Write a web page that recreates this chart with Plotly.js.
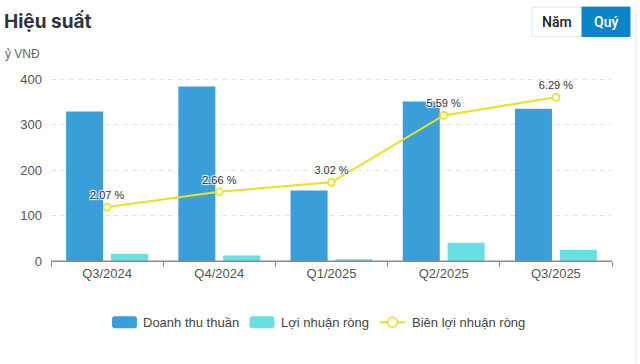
<!DOCTYPE html>
<html><head><meta charset="utf-8">
<script src="https://cdn.plot.ly/plotly-3.0.1.min.js"></script>
<style>html,body{margin:0;padding:0;background:#fff}#c{width:640px;height:364px}</style>
</head><body><div id="c"></div>
<script>
const categories = ["Q3/2024","Q4/2024","Q1/2025","Q2/2025","Q3/2025"];
const revenue = [329, 384, 155, 351, 335];
const netProfit = [16, 12, 4, 40, 25];
const netMargin = [2.07, 2.66, 3.02, 5.59, 6.29];
const marginLabels = netMargin.map(v => v.toFixed(2) + " %");
const yTicks = [0, 100, 200, 300, 400];
const seriesNames = ["Doanh thu thuần", "Lợi nhuận ròng", "Biên lợi nhuận ròng"];

const font = "Liberation Sans, Arial, sans-serif";
const BLUE = "#3a9fd9", CYAN = "#68dfe2", YELLOW = "#ebe11c";
const traces = [
  {type:"bar", name:seriesNames[0], x:categories, y:revenue,
   marker:{color:BLUE}, hoverinfo:"none"},
  {type:"bar", name:seriesNames[1], x:categories, y:netProfit,
   marker:{color:CYAN}, hoverinfo:"none"},
  {type:"scatter", mode:"lines+markers+text", name:seriesNames[2],
   x:categories, y:netMargin, yaxis:"y2", text:marginLabels,
   textposition:"top center",
   textfont:{family:font, size:11, color:"#333", shadow:"1px 1px 1px #fff, -1px -1px 1px #fff, 1px -1px 1px #fff, -1px 1px 1px #fff"},
   line:{color:YELLOW, width:2},
   marker:{symbol:"circle", size:7, color:"#ffffff", line:{color:YELLOW, width:1.6}},
   hoverinfo:"none"}
];

// pixel -> paper helpers (plot area: x 51..612, y 76.7..261.5)
const L = 51, W = 561, B = 261.5, H = 184.8;
const px = v => (v - L) / W;
const py = v => (B - v) / H;

const rr = "M -9.5,-6 L 9.5,-6 Q 12.5,-6 12.5,-3 L 12.5,3 Q 12.5,6 9.5,6 L -9.5,6 Q -12.5,6 -12.5,3 L -12.5,-3 Q -12.5,-6 -9.5,-6 Z";
const legY = 323;
const legendShapes = [
  {type:"path", xref:"paper", yref:"paper", xsizemode:"pixel", ysizemode:"pixel",
   xanchor:px(124.5), yanchor:py(legY), path:rr, fillcolor:BLUE, line:{width:0}},
  {type:"path", xref:"paper", yref:"paper", xsizemode:"pixel", ysizemode:"pixel",
   xanchor:px(262), yanchor:py(legY), path:rr, fillcolor:CYAN, line:{width:0}},
  {type:"line", xref:"paper", yref:"paper", x0:px(380), x1:px(405), y0:py(legY), y1:py(legY),
   line:{color:YELLOW, width:2}},
  {type:"circle", xref:"paper", yref:"paper", xsizemode:"pixel", ysizemode:"pixel",
   xanchor:px(392.5), yanchor:py(legY), x0:-5, x1:5, y0:-5, y1:5,
   fillcolor:"#fff", line:{color:YELLOW, width:1.6}}
];
const legendTexts = [[143, seriesNames[0]], [281, seriesNames[1]], [412, seriesNames[2]]].map(([x, t]) => ({
  text:t, xref:"paper", yref:"paper", x:px(x - 2), y:py(legY), xanchor:"left", yanchor:"middle",
  showarrow:false, font:{family:font, size:13, color:"#444"}
}));

const layout = {
  width:640, height:364,
  margin:{l:51, r:28, t:76.7, b:102.5},
  paper_bgcolor:"#fff", plot_bgcolor:"#fff",
  font:{family:font, color:"#555", size:13},
  barmode:"group", bargap:0.2, bargroupgap:0.175,
  showlegend:false,
  xaxis:{type:"category", showgrid:false, showline:true, linecolor:"#8a8a8a", linewidth:1,
         ticks:"outside", tickson:"boundaries", ticklen:5, tickcolor:"#8a8a8a",
         tickfont:{size:13, color:"#555"}, fixedrange:true, zeroline:false},
  yaxis:{range:[0,405], tickvals:yTicks, showline:false, zeroline:false,
         showgrid:true, gridcolor:"#e6e6e6", griddash:"5px,4px", gridwidth:1,
         tickfont:{size:13, color:"#555"}, ticklabelstandoff:8, fixedrange:true},
  yaxis2:{overlaying:"y", side:"right", range:[0,7.065], visible:false, showgrid:false, fixedrange:true},
  shapes:[
    {type:"line", xref:"paper", yref:"y", x0:0, x1:1, y0:0, y1:0, line:{color:"#8a8a8a", width:1}, layer:"above"},
    {type:"rect", xref:"paper", yref:"paper", x0:px(532), x1:px(582), y0:py(6.5), y1:py(36),
     line:{color:"#e6e6e6", width:1}, fillcolor:"#ffffff"},
    {type:"rect", xref:"paper", yref:"paper", x0:px(582), x1:px(630), y0:py(6.5), y1:py(36),
     line:{color:"#0a84c6", width:1}, fillcolor:"#0a84c6"},
    {type:"line", xref:"paper", yref:"paper", x0:px(636), x1:px(636), y0:py(10), y1:py(364),
     line:{color:"#e6e6e6", width:1}},
    ...legendShapes
  ],
  annotations:[
    {text:"<b>Hiệu suất</b>", xref:"paper", yref:"paper", x:px(2), y:py(21),
     xanchor:"left", yanchor:"middle", showarrow:false, font:{family:"Inter, Liberation Sans, sans-serif", size:19, color:"#2e3340"}},
    {text:"ỷ VNĐ", xref:"paper", yref:"paper", x:px(3), y:py(54),
     xanchor:"left", yanchor:"middle", showarrow:false, font:{family:font, size:12, color:"#666"}},
    {text:"Năm", xref:"paper", yref:"paper", x:px(557), y:py(21.5),
     xanchor:"center", yanchor:"middle", showarrow:false, font:{family:"Roboto, Liberation Sans, sans-serif", size:14, weight:500, color:"#222"}},
    {text:"Quý", xref:"paper", yref:"paper", x:px(606), y:py(21.5),
     xanchor:"center", yanchor:"middle", showarrow:false, font:{family:"Roboto, Liberation Sans, sans-serif", size:14, weight:500, color:"#fff"}},
    ...legendTexts
  ]
};
Plotly.newPlot("c", traces, layout, {displayModeBar:false, staticPlot:true});
</script></body></html>
